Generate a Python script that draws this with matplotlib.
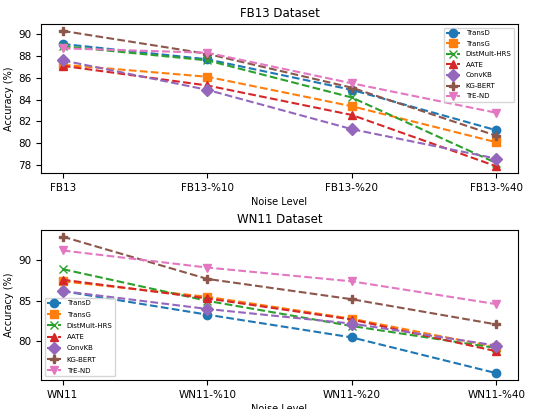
import matplotlib
matplotlib.use('Agg')
import matplotlib.pyplot as plt
from matplotlib.ticker import MultipleLocator

models = ['TransD', 'TransG', 'DistMult-HRS', 'AATE', 'ConvKB', 'KG-BERT', 'TrE-ND']
markers = ['o', 's', 'x', '^', 'D', 'P', 'v']

fb13_levels = ['FB13', 'FB13-%10', 'FB13-%20', 'FB13-%40']
fb13_TransD = [89.1, 87.7, 84.9, 81.2]
fb13_TransG = [87.2, 86.1, 83.4, 80.1]
fb13_DistMult = [88.9, 87.6, 84.2, 78.2]
fb13_AATE = [87.1, 85.3, 82.6, 77.9]
fb13_ConvKB = [87.6, 84.9, 81.3, 78.6]
fb13_KGBERT = [90.3, 88.2, 85.1, 80.7]
fb13_TrEND = [88.7, 88.3, 85.5, 82.8]

wn11_levels = ['WN11', 'WN11-%10', 'WN11-%20', 'WN11-%40']
wn11_TransD = [86.2, 83.3, 80.5, 76.1]
wn11_TransG = [87.4, 85.5, 82.8, 79.3]
wn11_DistMult = [88.9, 85.0, 81.9, 79.2]
wn11_AATE = [87.6, 85.3, 82.7, 78.8]
wn11_ConvKB = [86.2, 84.0, 82.2, 79.5]
wn11_KGBERT = [92.9, 87.7, 85.2, 82.1]
wn11_TrEND = [91.2, 89.1, 87.4, 84.6]

fb13 = [fb13_TransD, fb13_TransG, fb13_DistMult, fb13_AATE, fb13_ConvKB, fb13_KGBERT, fb13_TrEND]
wn11 = [wn11_TransD, wn11_TransG, wn11_DistMult, wn11_AATE, wn11_ConvKB, wn11_KGBERT, wn11_TrEND]

fig = plt.figure(figsize = (5.48, 4.09), dpi = 100)
ax1 = fig.add_axes([0.075, 0.577, 0.870, 0.364])
ax2 = fig.add_axes([0.075, 0.071, 0.870, 0.367])

for i in range(len(models)):
    ax1.plot(fb13_levels, fb13[i], linestyle = '--', marker = markers[i], markersize = 6, label = models[i])
    ax2.plot(wn11_levels, wn11[i], linestyle = '--', marker = markers[i], markersize = 6, label = models[i])

for ax, title in [(ax1, 'FB13 Dataset'), (ax2, 'WN11 Dataset')]:
    ax.set_title(title, fontsize = 8.5, pad = 5)
    ax.set_xlabel('Noise Level', fontsize = 7, labelpad = 3)
    ax.set_ylabel('Accuracy (%)', fontsize = 7, labelpad = 3)
    ax.tick_params(labelsize = 7.5)

ax1.yaxis.set_major_locator(MultipleLocator(2))

ax1.legend(loc = 'upper right', fontsize = 5, labelspacing = 0.65)
ax2.legend(loc = 'lower left', fontsize = 5, labelspacing = 0.75)

plt.savefig('out.png')
